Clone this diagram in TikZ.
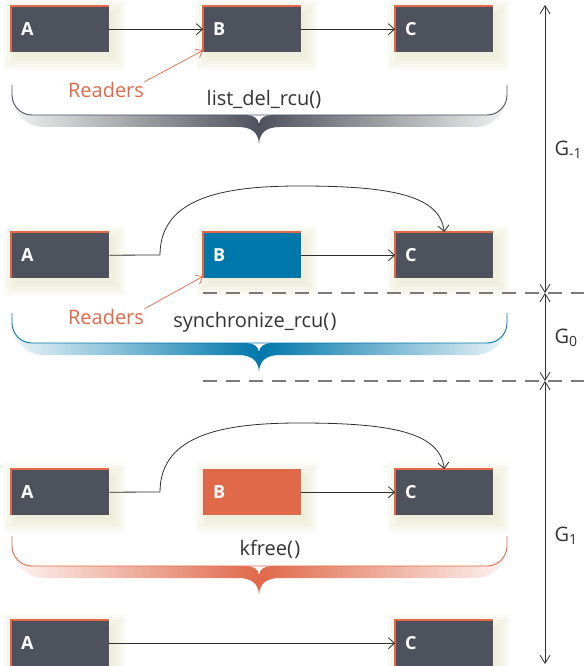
\documentclass[tikz,border=0pt]{standalone}
\usepackage{fontspec}
\setmainfont{Open Sans}
\usetikzlibrary{arrows.meta,backgrounds}
\definecolor{boxgray}{HTML}{4E525C}
\definecolor{rcublue}{HTML}{0077AB}
\definecolor{rcuorange}{HTML}{E0694A}
\definecolor{shadowc}{HTML}{D8D4A8}
\definecolor{dashgray}{HTML}{7A7A7A}
\definecolor{linec}{HTML}{2E2E2E}
\definecolor{textc}{HTML}{333333}
\newcommand\boxshade[1]{%
  \foreach \e in {0,3,6,9,12}{%
    \fill[shadowc, opacity=0.1] ([xshift={(5-\e)*1pt}, yshift={(-6+\e)*1pt}]#1.north west) rectangle ([xshift={(5+\e)*1pt}, yshift={(-6-\e)*1pt}]#1.south east);}}
\newcommand\rcubrace[2]{% #1 bottom y, #2 colour
  \shade[left color=#2!8, right color=#2!8, middle color=#2]
    (12,#1-20) .. controls (12,#1-2.3) and (26.3,#1+12) .. (44,#1+12)
    -- (238,#1+12)
    .. controls (252,#1+12) and (258.5,#1+18) .. (259,#1+29)
    .. controls (259.5,#1+18) and (266,#1+12) .. (280,#1+12)
    -- (475,#1+12)
    .. controls (492.7,#1+12) and (507,#1-2.3) .. (507,#1-20)
    .. controls (507,#1-9) and (498,#1) .. (487,#1)
    -- (272,#1)
    .. controls (265,#1) and (259.5,#1+3) .. (259,#1+9)
    .. controls (258.5,#1+3) and (253,#1) .. (246,#1)
    -- (32,#1)
    .. controls (21,#1) and (12,#1-9) .. (12,#1-20) -- cycle;
  \draw[#2, line width=0.9pt, rounded corners=20pt] (12,#1-30) -- (12,#1) -- (507,#1) -- (507,#1-30);}
\tikzset{
  nodebox/.style={fill=boxgray, minimum height=46pt, text width=78pt, inner xsep=10pt, inner ysep=0pt,
    align=left, anchor=north west, text=white, font=\fontsize{18}{18}\selectfont\bfseries},
  edge/.style={draw=rcuorange, line width=1.2pt},
  arr/.style={draw=linec, line width=0.8pt, -{Straight Barb[length=6pt, width=11pt, line width=0.8pt]}},
  readarr/.style={draw=rcuorange, line width=0.7pt, -{Straight Barb[length=6pt, width=10pt, line width=0.7pt]}},
  readers/.style={text=rcuorange, font=\fontsize{20}{20}\selectfont},
  fn/.style={text=textc, font=\fontsize{20}{20}\selectfont},
  glabel/.style={text=textc, font=\fontsize{20}{20}\selectfont, anchor=west},
  axis/.style={draw=linec, line width=0.8pt, {Straight Barb[length=8pt, width=10pt, line width=0.8pt]}-{Straight Barb[length=8pt, width=10pt, line width=0.8pt]}},
  dashline/.style={draw=dashgray, line width=1.3pt, dash pattern=on 14pt off 9pt}
}
\begin{document}
\begin{tikzpicture}[x=1pt, y=-1pt]
\useasboundingbox (0,0) rectangle (584,666);

% braces
\rcubrace{115}{boxgray}
\rcubrace{343}{rcublue}
\rcubrace{566}{rcuorange}

% boxes
\node[nodebox] (A1) at (11,6) {A};
\node[nodebox] (B1) at (203,6) {B};
\node[nodebox] (C1) at (395,6) {C};
\node[nodebox] (A2) at (11,232) {A};
\node[nodebox, fill=rcublue] (B2) at (203,232) {B};
\node[nodebox] (C2) at (395,232) {C};
\node[nodebox] (A3) at (11,469) {A};
\node[nodebox, fill=rcuorange] (B3) at (203,469) {B};
\node[nodebox] (C3) at (395,469) {C};
\node[nodebox] (A4) at (11,620) {A};
\node[nodebox] (C4) at (395,620) {C};

\begin{pgfonlayer}{background}
\foreach \b in {A1,B1,C1,A2,B2,C2,A3,B3,C3,A4,C4}{\boxshade{\b}}
\end{pgfonlayer}

\foreach \b in {A1,B1,C1,A2,B2,C2,A3,C3,A4,C4}{\draw[edge] (\b.south west) -- (\b.north west) -- (\b.north east);}

% connectors
\draw[arr] (A1) -- (B1);
\draw[arr] (B1) -- (C1);
\draw[arr] (A2.east) -- (160,255) .. controls (160,195) and (230,186) .. (300,186) .. controls (390,186) and (440,195) .. (C2.north);
\draw[arr] (B2) -- (C2);
\draw[arr] (A3.east) -- (160,492) .. controls (160,432) and (230,423) .. (300,423) .. controls (390,423) and (440,432) .. (C3.north);
\draw[arr] (B3) -- (C3);
\draw[arr] (A4) -- (C4);

% readers
\node[readers] (R1) at (106,90) {Readers};
\node[readers] (R2) at (106,317) {Readers};
\draw[readarr] ([xshift=-3pt, yshift=-3pt]R1.north east) -- ([yshift=2pt]B1.south west);
\draw[readarr] ([xshift=-3pt, yshift=-3pt]R2.north east) -- ([yshift=2pt]B2.south west);

% function labels
\node[fn] (F1) at (264,99) {list\_del\_rcu()};
\node[fn] (F2) at (255,322) {synchronize\_rcu(\kern1.5pt)};
\node[fn] (F3) at (270,549) {kfree(\kern1.5pt)};

% grace periods
\coordinate (T0) at (545,5);
\coordinate (T1) at (545,293);
\coordinate (T2) at (545,381);
\coordinate (T3) at (545,664);
\coordinate (D1s) at (203,293);
\coordinate (D1e) at (584,293);
\coordinate (D2s) at (203,381);
\coordinate (D2e) at (584,381);
\draw[dashline] (D1s) -- (D1e);
\draw[dashline] (D2s) -- (D2e);
\draw[axis] (T0) -- (T1);
\draw[axis] (T1) -- (T2);
\draw[axis] (T2) -- (T3);
\node[glabel] (G1) at (551,150) {G\textsubscript{-1}};
\node[glabel] (G2) at (551,338) {G\textsubscript{0}};
\node[glabel] (G3) at (551,536) {G\textsubscript{1}};
\end{tikzpicture}
\end{document}
